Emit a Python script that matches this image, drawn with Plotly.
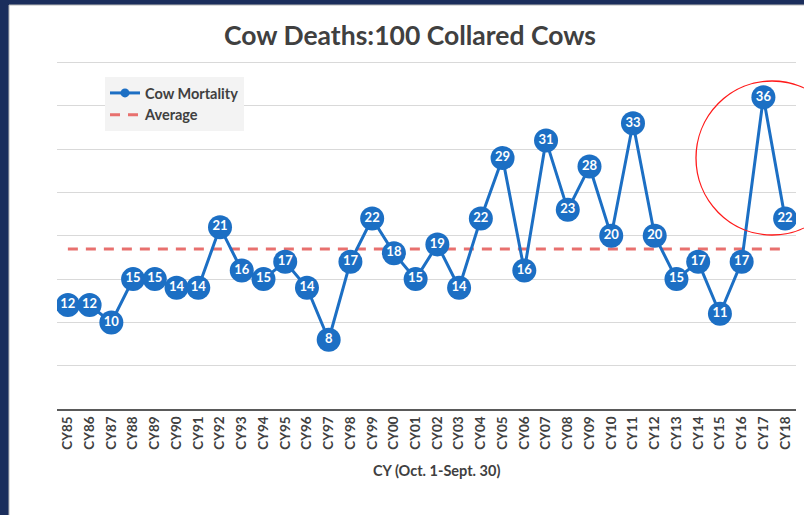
import numpy as np
import plotly.graph_objects as go

years = ['CY85', 'CY86', 'CY87', 'CY88', 'CY89', 'CY90', 'CY91', 'CY92', 'CY93', 'CY94',
         'CY95', 'CY96', 'CY97', 'CY98', 'CY99', 'CY00', 'CY01', 'CY02', 'CY03', 'CY04',
         'CY05', 'CY06', 'CY07', 'CY08', 'CY09', 'CY10', 'CY11', 'CY12', 'CY13', 'CY14',
         'CY15', 'CY16', 'CY17', 'CY18']
deaths = [12, 12, 10, 15, 15, 14, 14, 21, 16, 15,
          17, 14, 8, 17, 22, 18, 15, 19, 14, 22,
          29, 16, 31, 23, 28, 20, 33, 20, 15, 17,
          11, 17, 36, 22]
average = float(np.mean(deaths))

blue = '#1c6fc4'
navy = '#1b2e5c'
txt = '#404040'
font = 'Lato'

# plot box in pixels
L, R, T, B = 57, 796, 54, 409
pw, ph = R - L, B - T


def px(x):
    return (x - L) / pw


def py(y):
    return (B - y) / ph


fig = go.Figure()

# average line
fig.add_trace(go.Scatter(
    x=years, y=[average] * len(years),
    mode='lines',
    name='Average',
    line=dict(color='#e8706e', width=3, dash='10px,8px'),
    hoverinfo='skip'
))

# data line with labelled markers
fig.add_trace(go.Scatter(
    x=years, y=deaths,
    mode='lines+markers+text',
    text=[str(v) for v in deaths],
    textposition='middle center',
    textfont=dict(family=font, size=13, color='white', weight='bold'),
    line=dict(color=blue, width=3),
    marker=dict(color=blue, size=24),
    showlegend=False
))

# legend-only entry
fig.add_trace(go.Scatter(
    x=[None], y=[None],
    mode='lines+markers',
    name='Cow Mortality',
    line=dict(color=blue, width=3),
    marker=dict(color=blue, size=9)
))

# white card over the navy frame
fig.add_shape(type='rect', xref='paper', yref='paper',
              x0=px(9), x1=px(820), y0=py(530), y1=py(5),
              fillcolor='white', line=dict(color='#b8b8b8', width=1), layer='below')

# red highlight circle
fig.add_shape(type='circle', xref='paper', yref='paper',
              xsizemode='pixel', ysizemode='pixel',
              xanchor=px(772), yanchor=py(158),
              x0=-76, x1=76, y0=-77, y1=77,
              line=dict(color='#ff1a1a', width=1.3))

fig.add_annotation(text='CY (Oct. 1-Sept. 30)', xref='paper', yref='paper',
                   x=px(437), y=py(481),
                   showarrow=False,
                   font=dict(family=font, size=14.5, color=txt, weight='bold'))

fig.update_layout(
    width=804, height=515,
    margin=dict(l=L, r=804 - R, t=T, b=515 - B),
    paper_bgcolor=navy,
    plot_bgcolor='white',
    title=dict(text='Cow Deaths:100 Collared Cows',
               x=410 / 804, xanchor='center', xref='container',
               y=1 - 36 / 515, yanchor='middle', yref='container',
               font=dict(family=font, size=26.5, color=txt, weight='bold')),
    showlegend=True,
    legend=dict(x=px(105), y=py(77), xanchor='left', yanchor='top',
                bgcolor='#f3f3f3', traceorder='reversed',
                font=dict(family=font, size=14.5, color=txt, weight='bold'),
                itemwidth=30, tracegroupgap=0),
    xaxis=dict(type='category', range=[-0.5, len(years) - 0.5],
               showgrid=False, showline=True, linecolor='#5a5a5a', linewidth=2,
               ticks='', tickangle=-90,
               tickfont=dict(family=font, size=13.5, color=txt, weight='bold')),
    yaxis=dict(range=[0, 41], tickvals=[0, 5, 10, 15, 20, 25, 30, 35, 40],
               showticklabels=False,
               gridcolor='#d9d9d9', gridwidth=1, zeroline=False, showline=False),
)

fig.write_html('out.html', config={'displayModeBar': False},
               post_script="document.body.style.margin='0px';")
